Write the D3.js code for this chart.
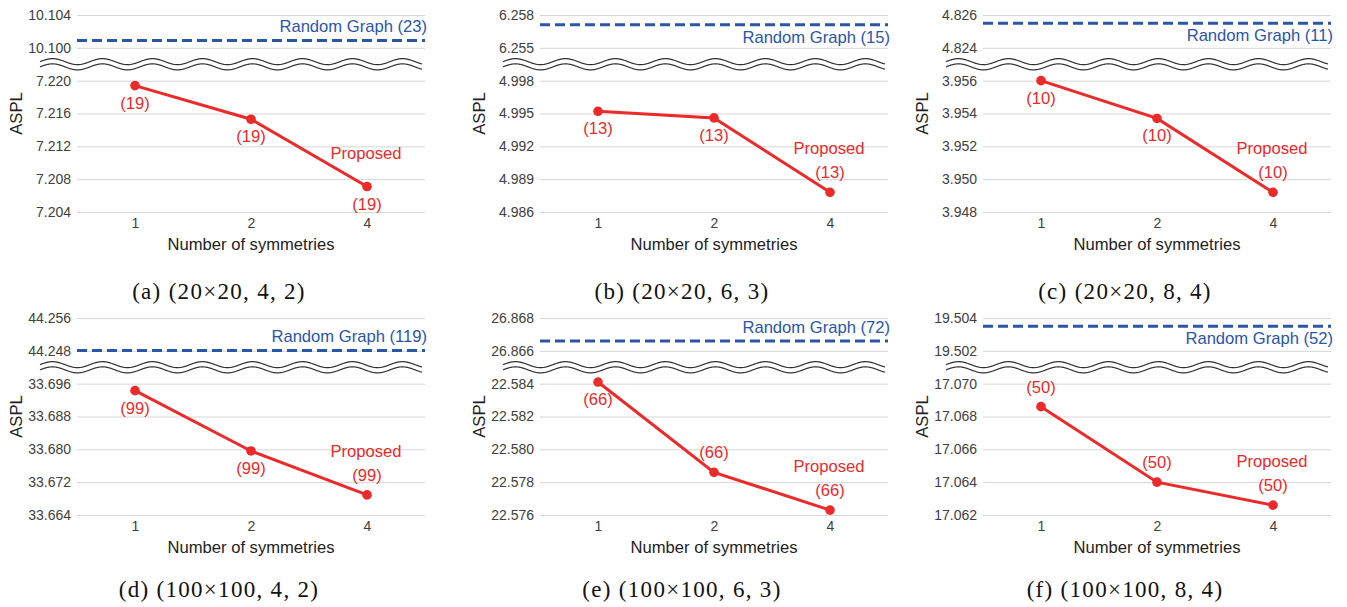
<!DOCTYPE html>
<html>
<head>
<meta charset="utf-8">
<script src="https://cdn.jsdelivr.net/npm/d3@7"></script>
<style>
  body { margin: 0; background: #fff; }
  svg text { font-family: "Liberation Sans", Arial, sans-serif; }
</style>
</head>
<body>
<svg id="chart" width="1347" height="607"></svg>
<script>
// ---- data ----
const panelLetters = ["a", "b", "c", "d", "e", "f"];
const panelSettings = ["(20×20, 4, 2)", "(20×20, 6, 3)", "(20×20, 8, 4)",
                       "(100×100, 4, 2)", "(100×100, 6, 3)", "(100×100, 8, 4)"];
const symmetries = ["1", "2", "4"];

// ticks above the axis break / below it
const upperTicks = [
  [10.100, 10.104], [6.255, 6.258], [4.824, 4.826],
  [44.248, 44.256], [26.866, 26.868], [19.502, 19.504]
];
const lowerTicks = [
  [7.204, 7.208, 7.212, 7.216, 7.220],
  [4.986, 4.989, 4.992, 4.995, 4.998],
  [3.948, 3.950, 3.952, 3.954, 3.956],
  [33.664, 33.672, 33.680, 33.688, 33.696],
  [22.576, 22.578, 22.580, 22.582, 22.584],
  [17.062, 17.064, 17.066, 17.068, 17.070]
];

const randomAspl = [10.1009, 6.2571, 4.8255, 44.2481, 26.8666, 19.5035];
const randomDiameter = [23, 15, 11, 119, 72, 52];

const proposedAspl = [
  [7.2194, 7.2153, 7.2071],
  [4.9952, 4.9946, 4.9878],
  [3.9560, 3.9537, 3.9492],
  [33.6943, 33.6796, 33.6689],
  [22.5841, 22.5786, 22.5763],
  [17.0686, 17.0640, 17.0626]
];
const proposedDiameter = [19, 13, 10, 99, 66, 50];

// where the annotation sits relative to its mark
const randomLabelSide = ["above", "below", "below", "above", "above", "below"];
const diameterLabelSide = [
  ["below", "below", "below"],
  ["below", "below", "above"],
  ["below", "below", "above"],
  ["below", "below", "above"],
  ["below", "above", "above"],
  ["above", "above", "above"]
];

// ---- layout ----
const COLS = [77, 540, 983], ROWS = [15, 318];
const CAPTION_Y = [299, 597];
const PW = 348, PH = 197;
const RED = "#ec2a2a", BLUE = "#2a56a8", GRID = "#d6d6d6";
const LABEL_SIZE = "16.6px";

const svg = d3.select("#chart");
svg.append("rect").attr("width", 1347).attr("height", 607).attr("fill", "#fff");

panelLetters.forEach((letter, i) => {
  const col = i % 3, row = Math.floor(i / 3);
  const left = COLS[col], top = ROWS[row];
  const step = PH / 6;
  const g = svg.append("g");

  const x = d3.scalePoint().domain(symmetries).range([left, left + PW]).padding(0.5);
  const up = upperTicks[i], lo = lowerTicks[i];
  const yUp = d3.scaleLinear().domain([up[0], up[up.length - 1]]).range([top + step, top]);
  const yLo = d3.scaleLinear().domain([lo[0], lo[lo.length - 1]]).range([top + PH, top + 2 * step]);

  // y axes (gridlines + labels)
  [[yUp, up], [yLo, lo]].forEach(([sc, ticks]) => {
    const ax = g.append("g")
      .attr("transform", `translate(${left},0)`)
      .call(d3.axisLeft(sc).tickValues(ticks).tickFormat(d3.format(".3f"))
        .tickSize(-PW).tickPadding(6));
    ax.select(".domain").remove();
    ax.selectAll("line").attr("stroke", GRID).attr("stroke-width", 1);
    ax.selectAll("text").attr("fill", "#404040").style("font-size", "14px")
      .style("font-family", '"Liberation Sans", Arial, sans-serif');
  });

  // x axis
  const xa = g.append("g")
    .attr("transform", `translate(0,${top + PH})`)
    .call(d3.axisBottom(x).tickSize(0).tickPadding(6));
  xa.select(".domain").remove();
  xa.selectAll("text").attr("fill", "#404040").style("font-size", "14px")
    .style("font-family", '"Liberation Sans", Arial, sans-serif');

  // axis break: two wavy lines
  const waveY = top + 1.5 * step;
  const xs = d3.range(left - 37, left + PW - 3 + 0.01, 1);
  [-2.6, 2.6].forEach(off => {
    g.append("path")
      .attr("d", d3.line().x(d => d)
        .y(d => waveY + off - 3 * Math.sin((d - (left - 37)) / 50 * 2 * Math.PI))(xs))
      .attr("fill", "none").attr("stroke", "#333").attr("stroke-width", 1.2);
  });

  // random graph reference
  const ry = yUp(randomAspl[i]);
  g.append("line")
    .attr("x1", left).attr("x2", left + PW)
    .attr("y1", ry).attr("y2", ry)
    .attr("stroke", BLUE).attr("stroke-width", 3).attr("stroke-dasharray", "10,5");
  g.append("text")
    .attr("x", left + PW + 2)
    .attr("y", randomLabelSide[i] === "above" ? ry - 8 : ry + 18)
    .attr("text-anchor", "end")
    .attr("fill", BLUE).style("font-size", LABEL_SIZE)
    .text(`Random Graph (${randomDiameter[i]})`);

  // proposed series
  const pts = symmetries.map((s, j) => ({ s, v: proposedAspl[i][j], side: diameterLabelSide[i][j] }));
  g.append("path")
    .datum(pts)
    .attr("d", d3.line().x(d => x(d.s)).y(d => yLo(d.v)))
    .attr("fill", "none").attr("stroke", RED).attr("stroke-width", 3);
  g.selectAll("circle.pt").data(pts).enter().append("circle")
    .attr("cx", d => x(d.s)).attr("cy", d => yLo(d.v)).attr("r", 4.8)
    .attr("fill", RED);
  g.selectAll("text.cnt").data(pts).enter().append("text")
    .attr("x", d => x(d.s))
    .attr("y", d => d.side === "above" ? yLo(d.v) - 14 : yLo(d.v) + 23)
    .attr("text-anchor", "middle").attr("fill", RED).style("font-size", LABEL_SIZE)
    .text(`(${proposedDiameter[i]})`);

  const last = pts[pts.length - 1];
  const lastY = yLo(last.v);
  g.append("text")
    .attr("x", x(last.s) - 1)
    .attr("y", last.side === "above" ? lastY - 14 - 24 : lastY - 28)
    .attr("text-anchor", "middle").attr("fill", RED).style("font-size", LABEL_SIZE)
    .text("Proposed");

  // titles
  g.append("text")
    .attr("transform", `translate(${left - 55},${top + PH / 2}) rotate(-90)`)
    .attr("text-anchor", "middle").attr("fill", "#222").style("font-size", LABEL_SIZE)
    .text("ASPL");
  g.append("text")
    .attr("x", left + PW / 2).attr("y", top + PH + 38)
    .attr("text-anchor", "middle").attr("fill", "#222").style("font-size", LABEL_SIZE)
    .text("Number of symmetries");

  // caption
  g.append("text")
    .attr("x", left + PW / 2 - 32).attr("y", CAPTION_Y[row])
    .attr("text-anchor", "middle").attr("fill", "#111")
    .style("font-family", '"Liberation Serif", "Times New Roman", serif')
    .style("font-size", "23px").style("letter-spacing", "1.3px")
    .text(`(${letter}) ${panelSettings[i]}`);
});
</script>
</body>
</html>
